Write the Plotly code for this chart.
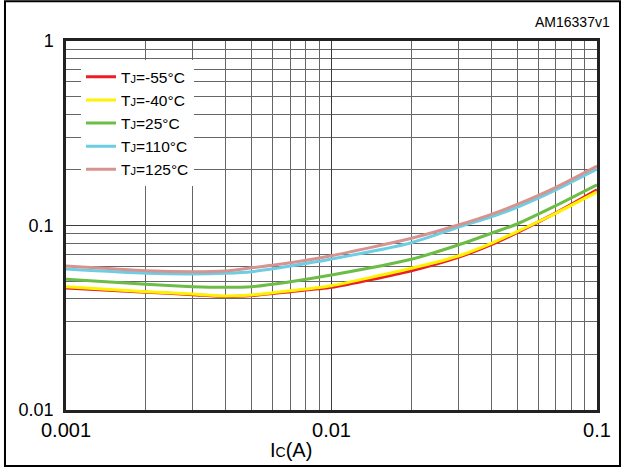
import plotly.graph_objects as go

# Collector current (A)
ic = [0.001, 0.002, 0.003, 0.004, 0.005, 0.007, 0.01, 0.02, 0.03, 0.04, 0.05, 0.07, 0.1]

# Series values
tj_m55 = [0.0458, 0.0435, 0.0422, 0.0412, 0.0417, 0.0438, 0.0462, 0.0569, 0.0672, 0.0787, 0.0914, 0.1170, 0.1560]
tj_m40 = [0.0466, 0.0438, 0.0425, 0.0415, 0.0420, 0.0443, 0.0472, 0.0586, 0.0683, 0.0800, 0.0926, 0.1165, 0.1520]
tj_25 = [0.0511, 0.0480, 0.0466, 0.0462, 0.0466, 0.0496, 0.0539, 0.0656, 0.0784, 0.0907, 0.1019, 0.1280, 0.1660]
tj_110 = [0.0581, 0.0551, 0.0546, 0.0551, 0.0562, 0.0603, 0.0658, 0.0807, 0.0978, 0.1116, 0.1255, 0.1560, 0.2020]
tj_125 = [0.0603, 0.0569, 0.0562, 0.0567, 0.0590, 0.0629, 0.0686, 0.0852, 0.1006, 0.1150, 0.1300, 0.1610, 0.2100]

series_names = [
    "T<span style='font-size:11px'>J</span>=-55°C",
    "T<span style='font-size:11px'>J</span>=-40°C",
    "T<span style='font-size:11px'>J</span>=25°C",
    "T<span style='font-size:11px'>J</span>=110°C",
    "T<span style='font-size:11px'>J</span>=125°C",
]
series_values = [tj_m55, tj_m40, tj_25, tj_110, tj_125]
series_colors = ["#ee1c25", "#fff200", "#6cbd45", "#6dcde3", "#d6938f"]

x_tickvals = [0.001, 0.01, 0.1]
x_ticktext = ["0.001", "0.01", "0.1"]
y_tickvals = [0.01, 0.1, 1]
y_ticktext = ["0.01", "0.1", "1"]

x_minor = [m * d for d in (0.001, 0.01) for m in range(2, 10)]
y_minor = [m * d for d in (0.01, 0.1) for m in range(2, 10)]

fig = go.Figure()
for name, vals, col in zip(series_names, series_values, series_colors):
    fig.add_trace(go.Scatter(
        x=ic, y=vals, name=name, mode="lines",
        line=dict(color=col, width=3, shape="spline", smoothing=0.6),
    ))

font_family = "Liberation Sans, Arial, sans-serif"
grid_col = "#3c3c3c"

fig.update_layout(
    width=622, height=468,
    margin=dict(l=66, r=25, t=41, b=58),
    paper_bgcolor="white", plot_bgcolor="white",
    font=dict(family=font_family, color="black"),
    showlegend=True,
    legend=dict(
        x=0.0283, y=0.948, xanchor="left", yanchor="top",
        bgcolor="white", borderwidth=0,
        font=dict(size=15.5, family=font_family, color="black"),
        tracegroupgap=0, itemwidth=30,
    ),
    xaxis=dict(
        type="log", range=[-3, -1],
        tickvals=x_tickvals, ticktext=x_ticktext,
        tickfont=dict(size=20),
        showgrid=True, gridcolor=grid_col, gridwidth=1,
        minor=dict(tickvals=x_minor, showgrid=True, gridcolor="#666666", gridwidth=1),
        showline=True, linecolor="#222222", linewidth=2.5, mirror=True,
        ticks="", zeroline=False,
    ),
    yaxis=dict(
        type="log", range=[-2, 0],
        tickvals=y_tickvals, ticktext=y_ticktext,
        tickfont=dict(size=18),
        showgrid=True, gridcolor=grid_col, gridwidth=1,
        minor=dict(tickvals=y_minor, showgrid=True, gridcolor="#666666", gridwidth=1),
        showline=True, linecolor="#222222", linewidth=2.5, mirror=True,
        ticks="", zeroline=False, ticklabelstandoff=6,
    ),
    annotations=[
        dict(text="I<span style='font-size:14px'>C</span>(A)", xref="paper", yref="paper",
             x=0.424, y=-0.108, xanchor="center", yanchor="middle",
             showarrow=False, font=dict(size=20, family=font_family, color="black")),
        dict(text="AM16337v1", xref="paper", yref="paper",
             x=1.028, y=1.0515, xanchor="right", yanchor="middle",
             showarrow=False, font=dict(size=14, family=font_family, color="black")),
    ],
    shapes=[
        dict(type="rect", xref="paper", yref="paper",
             x0=-0.1149, x1=1.0433, y0=-0.1518, y1=1.108,
             line=dict(color="black", width=2), layer="above"),
    ],
)

fig.write_html("out.html")
